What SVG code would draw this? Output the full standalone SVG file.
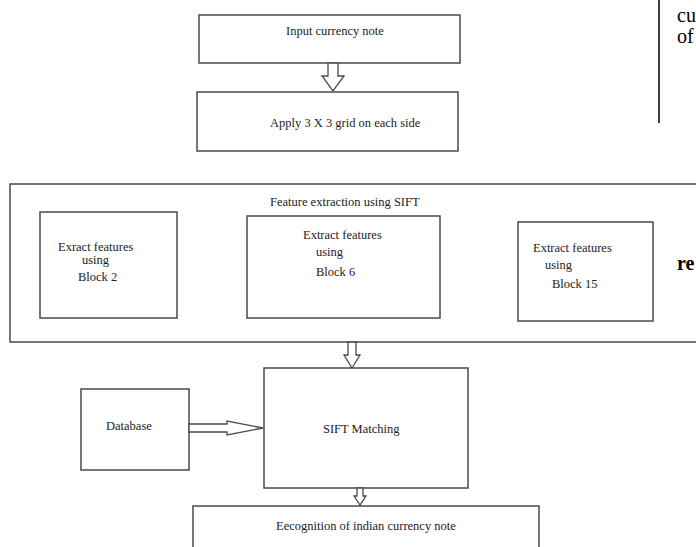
<svg xmlns="http://www.w3.org/2000/svg" width="696" height="547" viewBox="0 0 696 547">
<style>
.box{fill:#fff;stroke:#4a4a4a;stroke-width:1.5}
.t{font-family:"Liberation Serif","Times New Roman",serif;font-size:12.5px;fill:#222}
.arr{fill:#fff;stroke:#4a4a4a;stroke-width:1.3;stroke-linejoin:miter}
.big{font-family:"Liberation Serif","Times New Roman",serif;font-size:20px;fill:#000}
</style>
<rect width="696" height="547" fill="#fff"/>
<g id="input">
<rect class="box" x="199" y="15" width="261" height="48"/>
<text class="t" x="286" y="35">Input currency note</text>
</g>
<g id="apply">
<rect class="box" x="197" y="92" width="261" height="59"/>
<text class="t" x="270" y="127">Apply 3 X 3 grid on each side</text>
</g>
<g id="feature-extraction">
<rect class="box" x="10" y="184" width="700" height="158"/>
<text class="t" x="270" y="206">Feature extraction using SIFT</text>
</g>
<g id="block2">
<rect class="box" x="40" y="212" width="137" height="106"/>
<text class="t" x="58" y="251">Exract features</text>
<text class="t" x="82" y="264">using</text>
<text class="t" x="78" y="281">Block 2</text>
</g>
<g id="block6">
<rect class="box" x="247" y="216" width="193" height="102"/>
<text class="t" x="303" y="239">Extract features</text>
<text class="t" x="316" y="256">using</text>
<text class="t" x="316" y="276">Block 6</text>
</g>
<g id="block15">
<rect class="box" x="518" y="222" width="135" height="99"/>
<text class="t" x="533" y="252">Extract features</text>
<text class="t" x="545" y="269">using</text>
<text class="t" x="552" y="288">Block 15</text>
</g>
<g id="database">
<rect class="box" x="81" y="389" width="108" height="81"/>
<text class="t" x="106" y="430">Database</text>
</g>
<g id="sift-matching">
<rect class="box" x="264" y="368" width="204" height="120"/>
<text class="t" x="323" y="433">SIFT Matching</text>
</g>
<g id="recognition">
<rect class="box" x="193" y="506" width="346" height="60"/>
<text class="t" x="276" y="530">Eecognition of indian currency note</text>
</g>
<g id="connectors">
<polygon class="arr" points="328,63 338,63 338,76 344,76 333,91 322,76 328,76"/>
<polygon class="arr" points="348,342 356,342 356,355 360,355 352,368 344,355 348,355"/>
<polygon class="arr" points="357,488 363,488 363,496 366,496 360,505 354,496 357,496"/>
<polygon class="arr" points="189,424 227,424 227,421 263,428 227,435 227,432 189,432"/>
</g>
<g id="page-fragment">
<line x1="659" y1="0" x2="659" y2="123" stroke="#000" stroke-width="1.5"/>
<text class="big" x="677" y="22">cu</text>
<text class="big" x="677" y="43">of</text>
<text class="big" x="677" y="270" font-weight="bold">re</text>
</g>
</svg>
